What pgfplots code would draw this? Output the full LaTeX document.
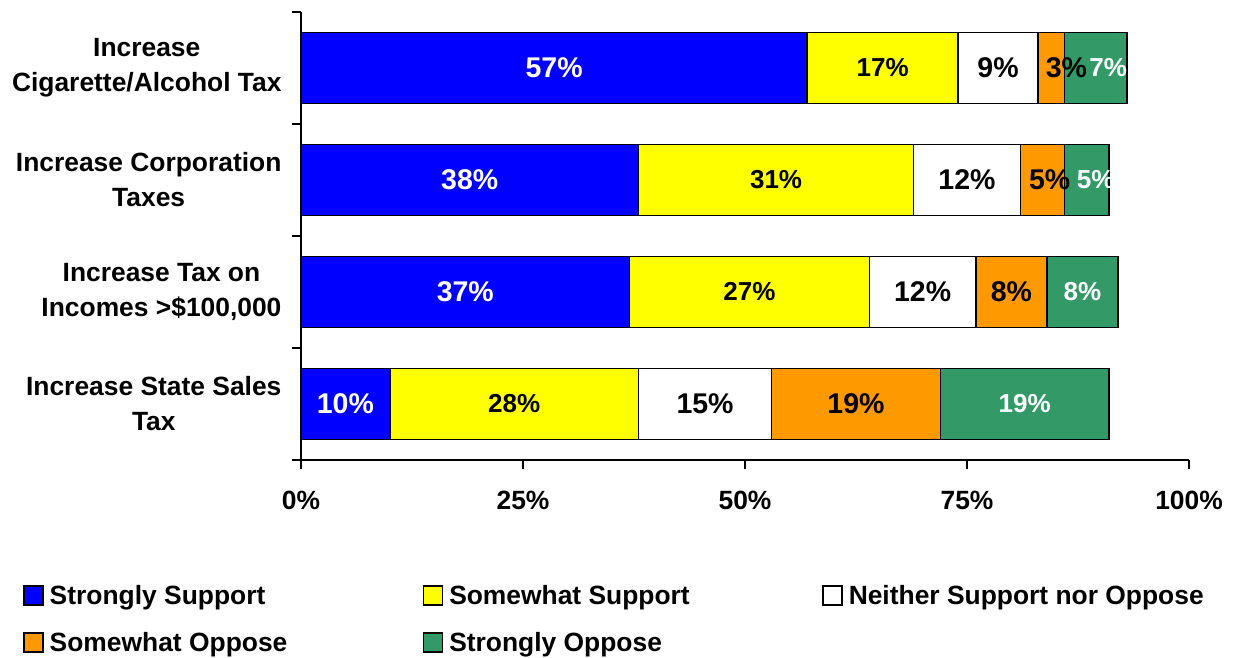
\documentclass[border=0pt]{standalone}
\usepackage{fontspec}
\setmainfont{Liberation Sans}
\usepackage{pgfplots}
\pgfplotsset{compat=1.18}
\definecolor{sblue}{RGB}{0,0,255}
\definecolor{syellow}{RGB}{255,255,0}
\definecolor{sorange}{RGB}{255,153,0}
\definecolor{sgreen}{RGB}{51,153,102}
\newcommand{\lab}{\fontsize{26.4}{35}\selectfont\bfseries}
\newcommand{\vbig}{\fontsize{28.5}{30}\selectfont\bfseries}
\newcommand{\vsmall}{\fontsize{26}{28}\selectfont\bfseries}
\pgfplotsset{
  geom/.style={at={(301pt,198pt)}, anchor=south west, scale only axis,
    width=888pt, height=448pt, xmin=0, xmax=100, ymin=-0.5, ymax=3.5},
  labplot/.style={draw=none, mark=none, nodes near coords, point meta=explicit symbolic,
    every node near coord/.append style={anchor=center, inner sep=0pt, #1}},
}
\begin{document}
\begin{tikzpicture}
\useasboundingbox (0,0) rectangle (1236pt,658pt);
\begin{axis}[geom,
  xbar stacked, bar width=71pt,
  axis lines=left,
  axis line style={-, line width=2pt, black},
  every outer x axis line/.append style={-},
  every outer y axis line/.append style={-},
  xtick={0,25,50,75,100}, xticklabels={0\%,25\%,50\%,75\%,100\%},
  ytick={-0.5,0.5,1.5,2.5,3.5},
  y tick label as interval,
  yticklabels={{Increase State Sales\\Tax},{Increase Tax on\\Incomes >\$100,000},{Increase Corporation\\Taxes},{Increase\\Cigarette/Alcohol Tax}},
  yticklabel style={align=center, font=\lab, xshift=-7pt},
  xticklabel style={font=\lab, yshift=-19pt},
  tick align=outside, major tick length=9pt,
  tick style={black, line width=2pt},
  legend image code/.code={\draw[#1, line width=1.5pt] (0pt,-9.5pt) rectangle (19pt,9.5pt);},
  legend columns=3,
  legend style={draw=none, fill=none, at={(-0.313,-0.275)}, anchor=north west, inner sep=0pt,
    font=\lab, row sep=22pt, /tikz/every odd column/.append style={column sep=4pt},
    /tikz/every even column/.append style={column sep=0pt}},
  legend cell align=left,
]
\addplot[fill=sblue, draw=black, line width=1.5pt] coordinates {(10,0) (37,1) (38,2) (57,3)};
\addplot[fill=syellow, draw=black, line width=1.5pt] coordinates {(28,0) (27,1) (31,2) (17,3)};
\addplot[fill=white, draw=black, line width=1.5pt] coordinates {(15,0) (12,1) (12,2) (9,3)};
\addplot[fill=sorange, draw=black, line width=1.5pt] coordinates {(19,0) (8,1) (5,2) (3,3)};
\addplot[fill=sgreen, draw=black, line width=1.5pt] coordinates {(19,0) (8,1) (5,2) (7,3)};
\legend{\makebox[371pt][l]{Strongly Support},\makebox[371pt][l]{Somewhat Support},\makebox[371pt][l]{Neither Support nor Oppose},\makebox[371pt][l]{Somewhat Oppose},\makebox[371pt][l]{Strongly Oppose}}
\end{axis}
\begin{axis}[geom, hide axis, clip=false]
\addplot[labplot={text=white, font=\vbig}] coordinates {(5,0) [10\%] (18.5,1) [37\%] (19,2) [38\%] (28.5,3) [57\%]};
\addplot[labplot={text=black, font=\vsmall}] coordinates {(24,0) [28\%] (50.5,1) [27\%] (53.5,2) [31\%] (65.5,3) [17\%]};
\addplot[labplot={text=black, font=\vbig}] coordinates {(45.5,0) [15\%] (70,1) [12\%] (75,2) [12\%] (78.5,3) [9\%]};
\addplot[labplot={text=black, font=\vbig}] coordinates {(62.5,0) [19\%] (80,1) [8\%] (84.3,2) [5\%] (86.2,3) [3\%]};
\addplot[labplot={text=white, font=\vsmall}] coordinates {(81.5,0) [19\%] (88,1) [8\%] (89.5,2) [5\%] (90.9,3) [7\%]};
\end{axis}
\end{tikzpicture}
\end{document}
